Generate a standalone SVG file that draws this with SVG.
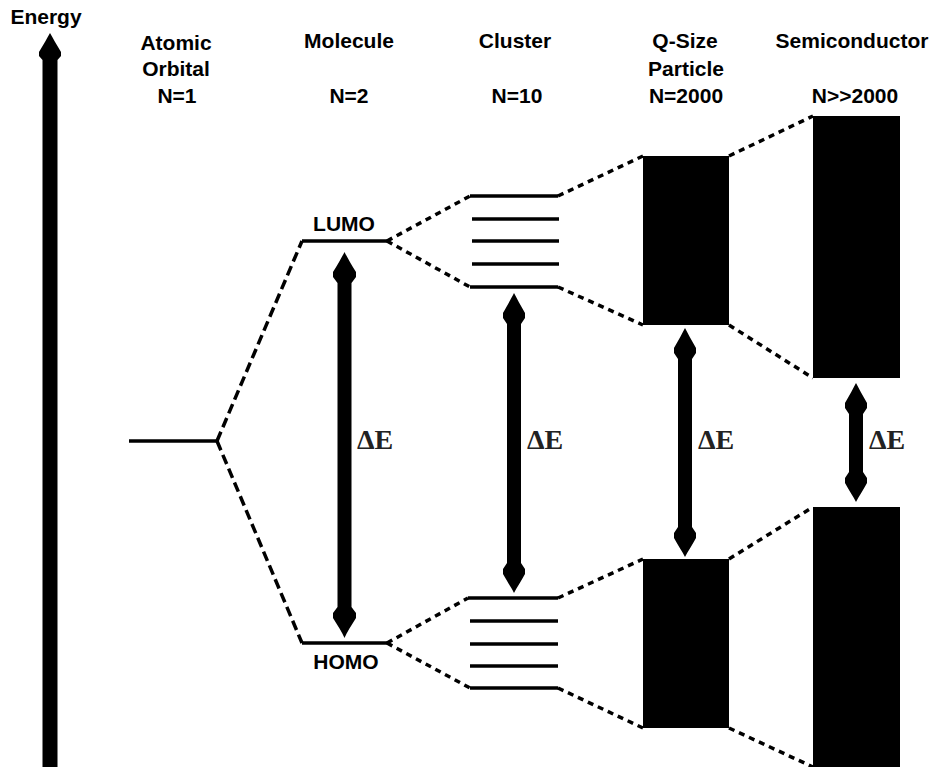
<svg xmlns="http://www.w3.org/2000/svg" width="936" height="767" viewBox="0 0 936 767">
<style>
.t{font-family:"Liberation Sans",Arial,sans-serif;font-weight:bold;font-size:21px;fill:#000;text-anchor:middle}
.de{font-family:"Liberation Serif","Times New Roman",serif;font-weight:bold;font-size:28px;fill:#222}
.lv{stroke:#000;stroke-width:3.5;fill:none}
.d1{stroke:#000;stroke-width:3.5;fill:none;stroke-dasharray:10 5}
.d2{stroke:#000;stroke-width:3.5;fill:none;stroke-dasharray:6 5}
.box{fill:#000}
.arr{fill:#000}
</style>
<rect width="936" height="767" fill="#fff"/>
<g id="energy-axis">
<path class="arr" d="M50,33 C53,38 56,44 61,52 L61,56 L57.5,60 L57.5,767 L42.5,767 L42.5,60 L39,56 L39,52 C44,44 47,38 50,33 Z"/>
<text class="t" x="46" y="24">Energy</text>
</g>
<g id="atomic-orbital">
<text class="t" x="176" y="50">Atomic</text>
<text class="t" x="176" y="76">Orbital</text>
<text class="t" x="177" y="103">N=1</text>
<line class="lv" x1="129" y1="441" x2="217" y2="441"/>
</g>
<g id="molecule">
<text class="t" x="349" y="48">Molecule</text>
<text class="t" x="349" y="103">N=2</text>
<text class="t" x="344" y="231">LUMO</text>
<text class="t" x="346" y="669">HOMO</text>
<line class="lv" x1="302" y1="241" x2="387" y2="241"/>
<line class="lv" x1="302" y1="643" x2="387" y2="643"/>
<path class="arr" d="M344.5,252 C347,257 351,264 356,272 L356,277 L351.5,283 L351.5,607 L356,613 L356,618 C351,626 347,632 344.5,638 C342,632 338,626 333,618 L333,613 L337.5,607 L337.5,283 L333,277 L333,272 C338,264 342,257 344.5,252 Z"/>
<text class="de" x="357" y="449">ΔE</text>
</g>
<g id="cluster">
<text class="t" x="515" y="48">Cluster</text>
<text class="t" x="517" y="103">N=10</text>
<line class="lv" x1="470" y1="196" x2="558" y2="196"/>
<line class="lv" x1="472" y1="219" x2="559" y2="219"/>
<line class="lv" x1="472" y1="241" x2="559" y2="241"/>
<line class="lv" x1="472" y1="264" x2="559" y2="264"/>
<line class="lv" x1="470" y1="287" x2="558" y2="287"/>
<line class="lv" x1="468" y1="598" x2="558" y2="598"/>
<line class="lv" x1="470" y1="621" x2="558" y2="621"/>
<line class="lv" x1="470" y1="644" x2="558" y2="644"/>
<line class="lv" x1="470" y1="666" x2="558" y2="666"/>
<line class="lv" x1="470" y1="688" x2="558" y2="688"/>
<path class="arr" d="M514,293 C516.5,298 520.5,305 525,313 L525,318 L521,324 L521,563 L525,569 L525,574 C520.5,582 516.5,588 514,593 C511.5,588 507.5,582 503,574 L503,569 L507,563 L507,324 L503,318 L503,313 C507.5,305 511.5,298 514,293 Z"/>
<text class="de" x="527" y="449">ΔE</text>
</g>
<g id="q-size-particle">
<text class="t" x="685" y="48">Q-Size</text>
<text class="t" x="686" y="76">Particle</text>
<text class="t" x="686" y="103">N=2000</text>
<rect class="box" x="643" y="156" width="86" height="169"/>
<rect class="box" x="643" y="559" width="86" height="169"/>
<path class="arr" d="M685,328 C687.5,333 691.5,340 696,348 L696,353 L692,359 L692,527 L696,533 L696,538 C691.5,546 687.5,552 685,557 C682.5,552 678.5,546 674,538 L674,533 L678,527 L678,359 L674,353 L674,348 C678.5,340 682.5,333 685,328 Z"/>
<text class="de" x="698" y="449">ΔE</text>
</g>
<g id="semiconductor">
<text class="t" x="852" y="48">Semiconductor</text>
<text class="t" x="855" y="103">N&gt;&gt;2000</text>
<rect class="box" x="813" y="116" width="87" height="262"/>
<rect class="box" x="813" y="507" width="87" height="260"/>
<path class="arr" d="M856,383 C858.5,388 862.5,395 867,403 L867,408 L863,414 L863,472 L867,478 L867,483 C862.5,491 858.5,497 856,502 C853.5,497 849.5,491 845,483 L845,478 L849,472 L849,414 L845,408 L845,403 C849.5,395 853.5,388 856,383 Z"/>
<text class="de" x="869" y="449">ΔE</text>
</g>
<g id="connectors">
<line class="d1" x1="217" y1="441" x2="302" y2="241"/>
<line class="d1" x1="217" y1="441" x2="302" y2="643"/>
<line class="d2" x1="387" y1="241" x2="470" y2="196"/>
<line class="d2" x1="387" y1="241" x2="470" y2="287"/>
<line class="d2" x1="387" y1="643" x2="468" y2="598"/>
<line class="d2" x1="387" y1="643" x2="470" y2="688"/>
<line class="d2" x1="558" y1="196" x2="643" y2="156"/>
<line class="d2" x1="558" y1="287" x2="643" y2="325"/>
<line class="d2" x1="558" y1="598" x2="643" y2="559"/>
<line class="d2" x1="558" y1="688" x2="643" y2="728"/>
<line class="d2" x1="729" y1="156" x2="813" y2="116"/>
<line class="d2" x1="729" y1="325" x2="813" y2="378"/>
<line class="d2" x1="729" y1="559" x2="813" y2="507"/>
<line class="d2" x1="729" y1="728" x2="813" y2="767"/>
</g>
</svg>
